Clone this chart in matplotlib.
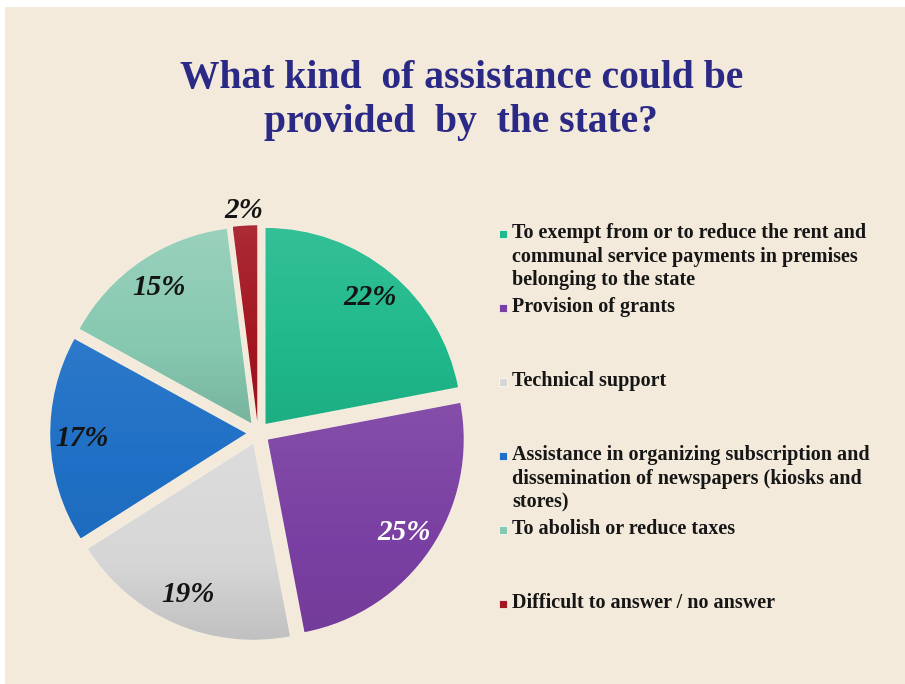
import numpy as np
import matplotlib.pyplot as plt
from matplotlib.patches import Rectangle
from matplotlib.colors import to_rgb

# survey answers, clockwise from 12 o'clock
labels = [
    "To exempt from or to reduce the rent and\ncommunal service payments in premises\nbelonging to the state",
    "Provision of grants",
    "Technical support",
    "Assistance in organizing subscription and\ndissemination of newspapers (kiosks and\nstores)",
    "To abolish or reduce taxes",
    "Difficult to answer / no answer",
]
shares = [22, 25, 19, 17, 15, 2]
colors = ["#1fb98b", "#7a3fa2", "#d6d6d6", "#1f70c6", "#86c8b0", "#a3151f"]

title_lines = ["What kind  of assistance could be", "provided  by  the state?"]

W, H = 905, 684
fig = plt.figure(figsize=(W / 100, H / 100), dpi=100, facecolor="white")

# parchment background
fig.add_artist(Rectangle((5 / W, 0), 1, 1 - 7 / H, transform=fig.transFigure,
                         facecolor="#f3eadb", edgecolor="none", zorder=-10))

serif = "Liberation Serif"
fig.text(462 / W, 1 - 88 / H, title_lines[0], ha="center", va="baseline",
         family=serif, weight="bold", size=28.5, color="#2a2a86")
fig.text(461 / W, 1 - 132 / H, title_lines[1], ha="center", va="baseline",
         family=serif, weight="bold", size=28.5, color="#2a2a86")

# pie axes: centre and radius in pixels
cx, cy, R = 258, 433, 196
span = 1.3
ax = fig.add_axes([(cx - span * R) / W, (H - cy - span * R) / H,
                   2 * span * R / W, 2 * span * R / H])
ax.set_facecolor("none")

wedges, texts, autotexts = ax.pie(
    shares, colors=colors, startangle=90, counterclock=False,
    explode=[0.06] * len(shares),
    autopct=lambda p: f"{p:.0f}%", pctdistance=0.84,
    wedgeprops=dict(edgecolor="#f7f0e3", linewidth=1),
    textprops=dict(family=serif, weight="bold", style="italic", size=21,
                   color="#141414"))
autotexts[1].set_color("white")

# small slice gets its label outside
w = wedges[-1]
t = np.deg2rad((w.theta1 + w.theta2) / 2)
autotexts[-1].set_position((w.center[0] + 1.08 * np.cos(t),
                            w.center[1] + 1.08 * np.sin(t)))

# soft vertical shading inside each slice
strength = [0.6, 0.5, 1.0, 0.4, 1.0, 0.6]
base = np.linspace(0.16, -0.10, 128)[:, None, None]
for w, c, s in zip(wedges, colors, strength):
    k = base * s
    rgb = np.array(to_rgb(c))[None, None, :]
    img = np.where(k > 0, rgb + (1 - rgb) * k, rgb * (1 + k))
    img = np.repeat(img, 2, axis=1)
    bb = w.get_path().get_extents()
    im = ax.imshow(img, extent=(bb.x0, bb.x1, bb.y0, bb.y1), origin="upper",
                   zorder=1.5, interpolation="bilinear")
    im.set_clip_path(w)

ax.set_xlim(-span, span)
ax.set_ylim(-span, span)
ax.set_aspect("equal")
ax.axis("off")

# legend
for i, (lab, c) in enumerate(zip(labels, colors)):
    yc = 234 + i * 74
    fig.add_artist(Rectangle((499 / W, 1 - (yc + 4) / H), 8 / W, 8 / H,
                             transform=fig.transFigure, facecolor=c,
                             edgecolor="#ffffff", linewidth=0.5))
    fig.text(512 / W, 1 - (yc - 11) / H, lab, ha="left", va="top",
             family=serif, weight="bold", size=14.5, color="#161616",
             linespacing=1.25)

fig.savefig("out.png", dpi=100, facecolor="white")
